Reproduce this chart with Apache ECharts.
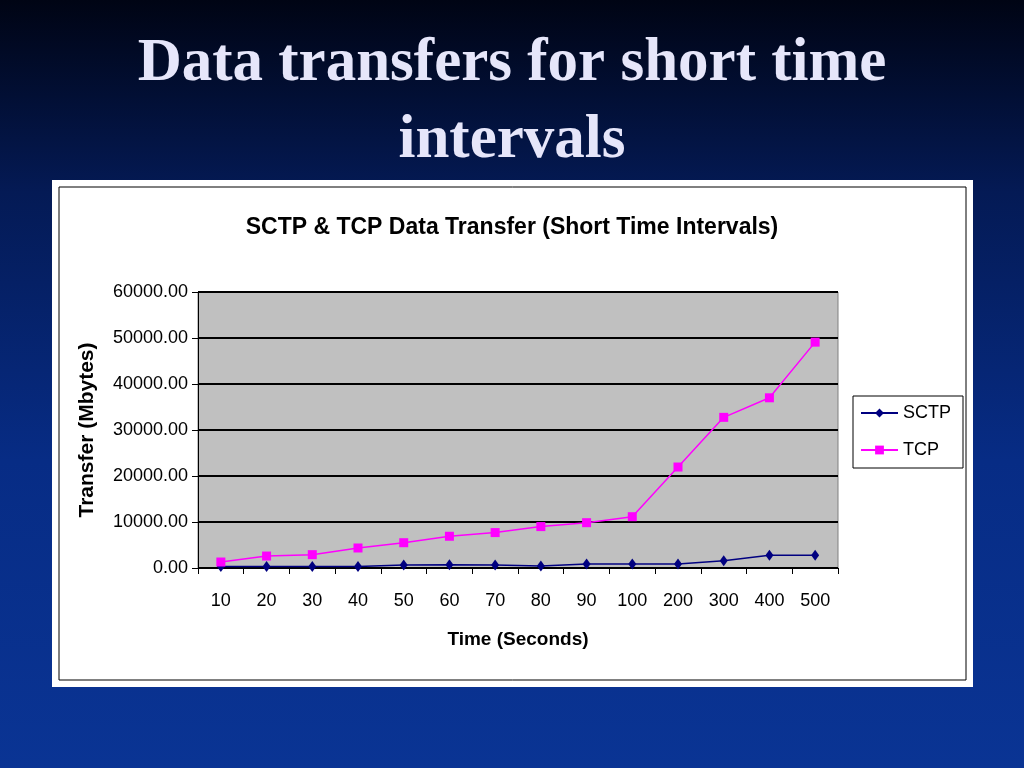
<!DOCTYPE html>
<html><head><meta charset="utf-8">
<script src="https://cdn.jsdelivr.net/npm/echarts@6/dist/echarts.min.js"></script>
<style>html,body{margin:0;padding:0;}#c{width:1024px;height:768px;}</style>
</head><body><div id="c"></div>
<script>
const categories = ['10','20','30','40','50','60','70','80','90','100','200','300','400','500'];
const sctpValues = [300,300,300,300,650,700,650,450,870,870,870,1600,2750,2750];
const tcpValues = [1300,2600,2900,4350,5500,6900,7700,9000,9850,11150,21950,32750,37000,49100];
const yMin = 0, yMax = 60000, yStep = 10000;

const FONT = '"Liberation Sans", Arial, sans-serif';
const chart = echarts.init(document.getElementById('c'));
chart.setOption({
  animation: false,
  backgroundColor: {type:'linear',x:0,y:0,x2:0,y2:1,colorStops:[
    {offset:0,color:'#000414'},{offset:0.25,color:'#041a55'},{offset:0.6,color:'#072c85'},{offset:1,color:'#0a3494'}]},
  graphic: [
    {type:'rect', shape:{x:52,y:180,width:921,height:507}, style:{fill:'#ffffff'}, z:-10},
    {type:'rect', shape:{x:59,y:187,width:907,height:493}, style:{fill:'none',stroke:'#000000',lineWidth:1}, z:-9},
    {type:'text', left:'center', top:26, style:{text:'Data transfers for short time\nintervals', font:'bold 61px "Liberation Serif", serif', fill:'#e6e6fa', textAlign:'center', lineHeight:77, shadowColor:'rgba(0,0,0,0.9)', shadowOffsetX:3, shadowOffsetY:3, shadowBlur:2}}
  ],
  title: {
    text: 'SCTP & TCP Data Transfer (Short Time Intervals)',
    left: 'center', top: 211,
    textStyle: {fontFamily:FONT, fontSize:23, fontWeight:'bold', color:'#000'}
  },
  legend: {
    orient:'vertical', left:853, top:396,
    data:['SCTP','TCP'],
    backgroundColor:'#fff', borderColor:'#000', borderWidth:1, borderRadius:0,
    padding:[8,12,9,7], itemGap:19, itemWidth:37, itemHeight:11,
    textStyle:{fontFamily:FONT, fontSize:18, color:'#000', lineHeight:18}
  },
  grid: {left:198, right:186, top:292, bottom:200, show:true, backgroundColor:'#c0c0c0', borderColor:'#808080', borderWidth:1},
  xAxis: {
    type:'category', data:categories, boundaryGap:true,
    name:'Time (Seconds)', nameLocation:'middle', nameGap:62,
    nameTextStyle:{fontFamily:FONT, fontSize:19, fontWeight:'bold', color:'#000'},
    axisLine:{lineStyle:{color:'#000',width:1}},
    axisTick:{show:true, inside:false, length:6, alignWithLabel:false, lineStyle:{color:'#000'}},
    axisLabel:{fontFamily:FONT, fontSize:18, color:'#000', margin:24, interval:0}
  },
  yAxis: {
    type:'value', min:yMin, max:yMax, interval:yStep,
    name:'Transfer (Mbytes)', nameLocation:'middle', nameGap:100, nameRotate:90,
    nameTextStyle:{fontFamily:FONT, fontSize:21, fontWeight:'bold', color:'#000'},
    axisLine:{show:true, lineStyle:{color:'#000',width:1}},
    axisTick:{show:true, length:6, lineStyle:{color:'#000'}},
    splitLine:{show:true, lineStyle:{color:'#000', width:2}},
    axisLabel:{fontFamily:FONT, fontSize:18, color:'#000', margin:10, formatter: v => v.toFixed(2)}
  },
  series: [
    {name:'SCTP', type:'line', data:sctpValues, symbol:'diamond', symbolSize:[8,11], color:'#000080',
     lineStyle:{color:'#000080', width:1.5}, itemStyle:{color:'#000080'}, z:3},
    {name:'TCP', type:'line', data:tcpValues, symbol:'rect', symbolSize:9, color:'#ff00ff',
     lineStyle:{color:'#ff00ff', width:1.5}, itemStyle:{color:'#ff00ff'}, z:4}
  ]
});
</script></body></html>
